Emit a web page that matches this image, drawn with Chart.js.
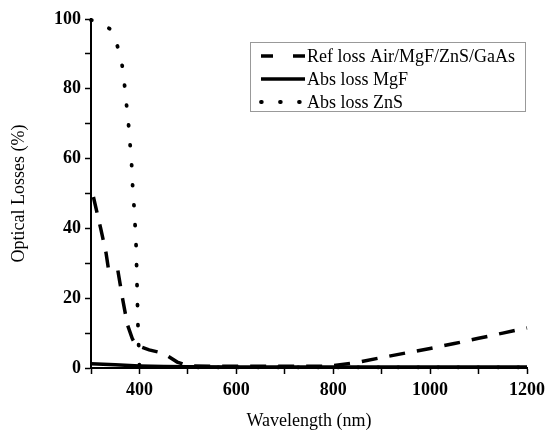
<!DOCTYPE html>
<html>
<head>
<meta charset="utf-8">
<script src="https://cdn.jsdelivr.net/npm/chart.js@4.4.0/dist/chart.umd.min.js"></script>
<style>
  body { margin: 0; background: #fff; }
  canvas { display: block; }
</style>
</head>
<body>
<canvas id="lossChart" width="547" height="432"></canvas>
<script>
// Reflection loss of the Air/MgF/ZnS/GaAs stack
const refWl   = [305, 320, 331, 336, 355, 365, 375, 385, 392, 420, 450, 478, 500, 550, 600, 700, 780, 800, 850, 900, 950, 1000, 1050, 1100, 1150, 1200];
const refLoss = [49, 40, 33, 28.4, 28.3, 20, 12.5, 8.5, 6.6, 5.2, 4.2, 1.7, 0.6, 0.5, 0.5, 0.5, 0.5, 0.7, 1.6, 3, 4.3, 5.6, 7, 8.5, 10, 11.5];

// Absorption loss in the MgF layer
const mgfWl   = [300, 350, 400, 450, 500, 600, 800, 1000, 1200];
const mgfLoss = [1.2, 0.9, 0.6, 0.45, 0.35, 0.3, 0.3, 0.3, 0.3];

// Absorption loss in the ZnS layer
const znsWl   = [300, 312, 341, 358, 366, 370, 374, 378, 381, 384, 386, 389, 391, 393, 394, 395, 396, 397, 398.5, 400, 420, 500, 800, 1200];
const znsLoss = [99.7, 99.4, 97, 91, 85.5, 80, 74.5, 69, 63.5, 58, 52, 46, 41, 35.5, 30, 24, 18, 12, 6, 0.5, 0.3, 0.2, 0.2, 0.2];

const xTicks = [400, 600, 800, 1000, 1200];
const yTicks = [0, 20, 40, 60, 80, 100];

const seriesNames = ['Ref loss Air/MgF/ZnS/GaAs', 'Abs loss MgF', 'Abs loss ZnS'];

const pairs = (xs, ys) => xs.map((x, i) => ({ x: x, y: ys[i] }));

const serif = "'Liberation Serif', 'Times New Roman', serif";

// legend drawn inside the plot, upper right, with a thin grey frame
const boxLegend = {
    id: 'boxLegend',
    afterDraw(chart) {
        const ctx = chart.ctx;
        const left = 250, top = 42, width = 275, height = 69;
        ctx.save();
        ctx.strokeStyle = '#999';
        ctx.lineWidth = 1;
        ctx.setLineDash([]);
        ctx.strokeRect(left + 0.5, top + 0.5, width, height);
        ctx.font = '18px ' + serif;
        ctx.fillStyle = '#000';
        ctx.textBaseline = 'middle';
        chart.data.datasets.forEach((ds, i) => {
            const y = top + 14 + i * 23;
            ctx.strokeStyle = '#000';
            ctx.lineWidth = ds.borderWidth;
            ctx.lineCap = ds.borderCapStyle || 'butt';
            ctx.setLineDash(ds.legendDash || []);
            ctx.beginPath();
            ctx.moveTo(261, y);
            ctx.lineTo(305, y);
            ctx.stroke();
            ctx.fillText(ds.label, 307, y + 1);
        });
        ctx.restore();
    }
};

new Chart(document.getElementById('lossChart').getContext('2d'), {
    type: 'line',
    data: {
        datasets: [{
            label: seriesNames[0],
            data: pairs(refWl, refLoss),
            borderColor: '#000',
            borderWidth: 3.5,
            borderDash: [16, 12],
            legendDash: [12, 20],
            pointRadius: 0,
            tension: 0
        }, {
            label: seriesNames[1],
            data: pairs(mgfWl, mgfLoss),
            borderColor: '#000',
            borderWidth: 3.5,
            pointRadius: 0,
            tension: 0
        }, {
            label: seriesNames[2],
            data: pairs(znsWl, znsLoss),
            borderColor: '#000',
            borderWidth: 3.8,
            borderCapStyle: 'round',
            borderDash: [0.8, 19.2],
            legendDash: [0.8, 18.2],
            pointRadius: 0,
            tension: 0
        }]
    },
    options: {
        responsive: false,
        animation: false,
        clip: false,
        layout: { padding: { top: 19, right: 20, left: 0, bottom: 0 } },
        plugins: {
            legend: { display: false },
            tooltip: { enabled: false }
        },
        scales: {
            x: {
                type: 'linear',
                min: 300,
                max: 1200,
                afterFit: s => { s.height = 64; s.paddingLeft = 0; s.paddingRight = 0; },
                border: { color: '#000', width: 2 },
                grid: { drawOnChartArea: false, drawTicks: true, tickLength: 6, tickColor: '#000', tickWidth: 1.5 },
                ticks: {
                    stepSize: 100,
                    maxRotation: 0,
                    autoSkip: false,
                    padding: 6,
                    color: '#000',
                    font: { family: serif, size: 18, weight: 'bold' },
                    callback: v => xTicks.includes(v) ? String(v) : ''
                },
                title: {
                    display: true,
                    text: 'Wavelength (nm)',
                    color: '#000',
                    font: { family: serif, size: 18 },
                    padding: { top: 8, bottom: 0 }
                }
            },
            y: {
                min: 0,
                max: 100,
                afterFit: s => { s.width = 91; s.paddingTop = 0; s.paddingBottom = 0; },
                border: { color: '#000', width: 2 },
                grid: { drawOnChartArea: false, drawTicks: true, tickLength: 6, tickColor: '#000', tickWidth: 1.5 },
                ticks: {
                    stepSize: 10,
                    autoSkip: false,
                    padding: 4,
                    color: '#000',
                    font: { family: serif, size: 18, weight: 'bold' },
                    callback: v => yTicks.includes(v) ? String(v) : ''
                },
                title: {
                    display: true,
                    text: 'Optical Losses (%)',
                    color: '#000',
                    font: { family: serif, size: 18 },
                    padding: { top: 8, bottom: 0 }
                }
            }
        }
    },
    plugins: [boxLegend]
});
</script>
</body>
</html>
